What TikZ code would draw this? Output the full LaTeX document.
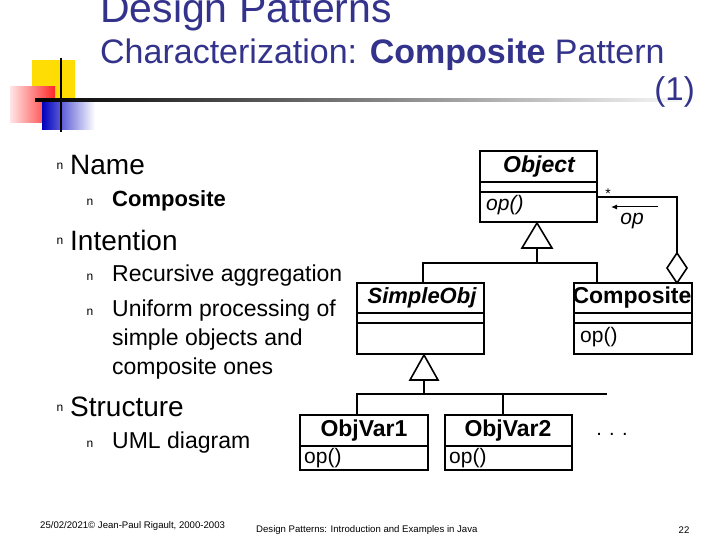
\documentclass[tikz,border=0pt]{standalone}
\usepackage{fontspec}
\setmainfont{Liberation Sans}
\usetikzlibrary{arrows.meta}
\definecolor{tblue}{RGB}{51,51,140}
\begin{document}
\begin{tikzpicture}[x=1pt,y=-1pt,
  cls/.style={draw,line width=1.6pt},
  ln/.style={line width=1.6pt},
  t/.style={inner sep=0pt,anchor=west},
  bul/.style={inner sep=0pt,font=\fontsize{12}{12}\selectfont},
]
\useasboundingbox (0,0) rectangle (720,540);
% decoration
\fill[yellow!80!orange] (32,60) rectangle (75,100);
\shade[left color=red!10,right color=red!85] (10,87) rectangle (55,123);
\shade[left color=blue!75!black,right color=white] (42,100) rectangle (95,130);
\draw[line width=1.2pt] (61,58) -- (61,132);
\shade[left color=black,right color=white] (35,98.5) rectangle (700,101.5);
% title
\node[t,text=tblue,font=\fontsize{41}{41}\selectfont] (title) at (100,12) {Design Patterns};
\node[t,text=tblue,font=\fontsize{34}{34}\selectfont] (sub) at (100,55) {Characterization: \textbf{Composite} Pattern};
\node[inner sep=0pt,anchor=east,text=tblue,font=\fontsize{33}{33}\selectfont] (one) at (695,92) {(1)};
% bullets
\node[bul] (b1) at (60,166) {n};
\node[t,font=\fontsize{28}{28}\selectfont] (name) at (70,165) {Name};
\node[bul] (b2) at (90,202) {n};
\node[t,font=\bfseries\fontsize{22}{22}\selectfont] (comp) at (112,201) {Composite};
\node[bul] (b3) at (60,241) {n};
\node[t,font=\fontsize{28}{28}\selectfont] (int) at (70,240) {Intention};
\node[bul] (b4) at (90,277) {n};
\node[t,font=\fontsize{23}{23}\selectfont] (ra) at (112,276) {Recursive aggregation};
\node[bul] (b5) at (90,312) {n};
\node[t,font=\fontsize{23}{23}\selectfont] (up1) at (112,311) {Uniform processing of};
\node[t,font=\fontsize{23}{23}\selectfont] (up2) at (112,340) {simple objects and};
\node[t,font=\fontsize{23}{23}\selectfont] (up3) at (112,369) {composite ones};
\node[bul] (b6) at (60,408) {n};
\node[t,font=\fontsize{28}{28}\selectfont] (str) at (70,407) {Structure};
\node[bul] (b7) at (90,444) {n};
\node[t,font=\fontsize{23}{23}\selectfont] (uml) at (112,443) {UML diagram};
% classes
\draw[cls] (480,151) rectangle (597,222);
\draw[ln] (480,182) -- (597,182) (480,192) -- (597,192);
\node[inner sep=0pt,font=\bfseries\itshape\fontsize{23}{23}\selectfont] (obj) at (539,167) {Object};
\node[t,font=\itshape\fontsize{21}{21}\selectfont] (objop) at (486,205) {op()};
\draw[cls] (357,283) rectangle (484,354);
\draw[ln] (357,313) -- (484,313) (357,323) -- (484,323);
\node[inner sep=0pt,font=\bfseries\itshape\fontsize{22}{22}\selectfont] (simple) at (422,298) {SimpleObj};
\draw[cls] (574,283) rectangle (692,354);
\draw[ln] (574,313) -- (692,313) (574,323) -- (692,323);
\node[inner sep=0pt,font=\bfseries\fontsize{23}{23}\selectfont] (composite) at (632,298) {Composite};
\node[t,font=\fontsize{21}{21}\selectfont] (cop) at (580,337) {op()};
\draw[cls] (300,415) rectangle (428,470);
\draw[ln] (300,446) -- (428,446);
\node[inner sep=0pt,font=\bfseries\fontsize{23}{23}\selectfont] (v1) at (364,431) {ObjVar1};
\node[t,font=\fontsize{21}{21}\selectfont] (v1op) at (304,458) {op()};
\draw[cls] (445,415) rectangle (572,470);
\draw[ln] (445,446) -- (572,446);
\node[inner sep=0pt,font=\bfseries\fontsize{23}{23}\selectfont] (v2) at (508,431) {ObjVar2};
\node[t,font=\fontsize{21}{21}\selectfont] (v2op) at (449,458) {op()};
\node[inner sep=0pt,font=\fontsize{20}{20}\selectfont] (dots) at (612,434) {. . .};
% generalization 1
\draw[ln,fill=white] (537,223) -- (552,248) -- (522,248) -- cycle;
\draw[ln] (537,248) -- (537,263) (423,283) -- (423,263) -- (597,263) -- (597,283);
% generalization 2
\draw[ln,fill=white] (424,355) -- (438,380) -- (410,380) -- cycle;
\draw[ln] (424,380) -- (424,394) (357,415) -- (357,394) -- (607,394) (503,394) -- (503,415);
% aggregation
\draw[ln] (597,197) -- (677,197) -- (677,253);
\draw[ln,fill=white] (677,253) -- (687,268) -- (677,283) -- (667,268) -- cycle;
\node[inner sep=0pt,font=\fontsize{14}{14}\selectfont] (star) at (608,194) {*};
\draw[line width=1pt,-{Latex[length=6pt,width=5pt]}] (658,207) -- (611,207);
\node[inner sep=0pt,font=\itshape\fontsize{21}{21}\selectfont] (opl) at (632,221) {op};
% footer
\node[t,font=\fontsize{9.6}{9.6}\selectfont] (f1) at (40,526) {25/02/2021© Jean-Paul Rigault, 2000-2003};
\node[t,font=\fontsize{9.6}{9.6}\selectfont] (f2) at (256,530) {Design Patterns: Introduction and Examples in Java};
\node[inner sep=0pt,font=\fontsize{9.6}{9.6}\selectfont] (f3) at (684,530) {22};
\end{tikzpicture}
\end{document}
